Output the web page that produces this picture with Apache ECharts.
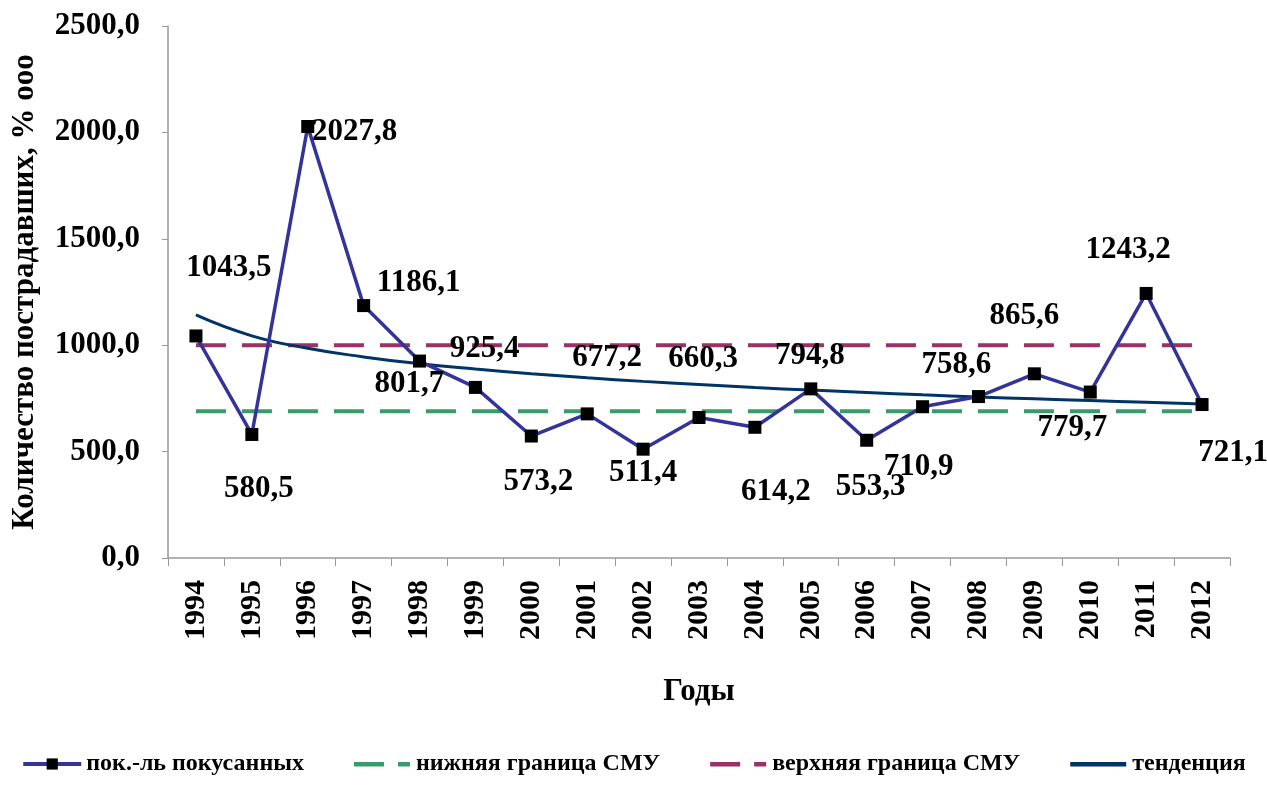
<!DOCTYPE html>
<html>
<head>
<meta charset="utf-8">
<script src="https://cdn.jsdelivr.net/npm/echarts@6/dist/echarts.min.js"></script>
<style>html,body{margin:0;padding:0;background:#fff}#c{width:1267px;height:785px}</style>
</head>
<body>
<div id="c"></div>
<script>
const years = ['1994','1995','1996','1997','1998','1999','2000','2001','2002','2003','2004','2005','2006','2007','2008','2009','2010','2011','2012'];
const bitten = [1043.5,580.5,2027.8,1186.1,925.4,801.7,573.2,677.2,511.4,660.3,614.2,794.8,553.3,710.9,758.6,865.6,779.7,1243.2,721.1];
const lowerBound = [690,690,690,690,690,690,690,690,690,690,690,690,690,690,690,690,690,690,690];
const upperBound = [1000,1000,1000,1000,1000,1000,1000,1000,1000,1000,1000,1000,1000,1000,1000,1000,1000,1000,1000];
const trend = [1142,1044,986,945,913,888,866,847,830,815,801,789,778,767,757,748,740,732,724];
const yTicks = [0,500,1000,1500,2000,2500];
const seriesNames = ['пок.-ль покусанных','нижняя граница СМУ','верхняя граница СМУ','тенденция'];
// label offsets (dx, dy) from each marker centre
const labelOffsets = [[33,-68],[7,55],[47,6],[55,-23],[65,-12],[-66,-3],[7,46],[20,-56],[0,24],[4,-59],[21,65],[-1,-33],[4,47],[-4,60],[-22,-32],[-10,-58],[-18,36],[-18,-43],[31,48]];

const fmt = v => Number(v).toFixed(1).replace('.', ',');
const font = 'Liberation Serif';
// legend icons drawn in a 56x14 box (tiny corner dots fix the box size)
const box = ' M0,0h0.01v0.01h-0.01z M55.99,13.99h0.01v0.01h-0.01z';
const dashIcon = 'path://M0,5h30v4.5h-30z M44,5h12v4.5h-12z' + box;
const solidIcon = 'path://M0,5h56v4.5h-56z' + box;

const chart = echarts.init(document.getElementById('c'));
chart.setOption({
  animation: false,
  backgroundColor: '#fff',
  grid: {left: 168, right: 37, top: 26, bottom: 227, containLabel: false, outerBoundsMode: 'none'},
  legend: {
    bottom: 4, left: 'center', itemWidth: 58, itemHeight: 14, itemGap: 50,
    textStyle: {fontFamily: font, fontWeight: 'bold', fontSize: 24, color: '#000'},
    data: [
      {name: seriesNames[0], lineStyle: {width: 4}},
      {name: seriesNames[1], icon: dashIcon},
      {name: seriesNames[2], icon: dashIcon},
      {name: seriesNames[3], icon: solidIcon}
    ]
  },
  xAxis: {
    type: 'category', data: years, boundaryGap: true,
    name: 'Годы', nameLocation: 'middle', nameGap: 118,
    nameTextStyle: {fontFamily: font, fontWeight: 'bold', fontSize: 31, color: '#000'},
    axisLine: {lineStyle: {color: '#999', width: 1.5}},
    axisTick: {show: true, length: 8, lineStyle: {color: '#999'}},
    axisLabel: {rotate: 90, margin: 22, fontFamily: font, fontWeight: 'bold', fontSize: 30, color: '#000', interval: 0}
  },
  yAxis: {
    type: 'value', min: yTicks[0], max: yTicks[yTicks.length-1], interval: 500,
    name: 'Количество пострадавших, % ооо', nameLocation: 'middle', nameGap: 128,
    nameTextStyle: {fontFamily: font, fontWeight: 'bold', fontSize: 31, color: '#000'},
    axisLine: {show: true, lineStyle: {color: '#999', width: 1.5}},
    axisTick: {show: true, length: 6, lineStyle: {color: '#999'}},
    splitLine: {show: false},
    axisLabel: {margin: 28, fontFamily: font, fontWeight: 'bold', fontSize: 31, color: '#000', formatter: fmt}
  },
  series: [
    {
      name: seriesNames[1], type: 'line', data: lowerBound, symbol: 'none', z: 2,
      lineStyle: {color: '#3A9A6A', width: 4, type: [30, 16]}, itemStyle: {color: '#3A9A6A'}
    },
    {
      name: seriesNames[2], type: 'line', data: upperBound, symbol: 'none', z: 2,
      lineStyle: {color: '#993366', width: 4, type: [30, 16]}, itemStyle: {color: '#993366'}
    },
    {
      name: seriesNames[3], type: 'line', data: trend, symbol: 'none', smooth: true, z: 3,
      lineStyle: {color: '#003366', width: 3}, itemStyle: {color: '#003366'}
    },
    {
      name: seriesNames[0], type: 'line', z: 5,
      data: bitten.map((v, i) => ({value: v, label: {offset: labelOffsets[i]}})),
      symbol: 'rect', symbolSize: 13,
      lineStyle: {color: '#333399', width: 3.5},
      itemStyle: {color: '#000'},
      label: {show: true, position: 'inside', formatter: p => fmt(p.value),
        fontFamily: font, fontWeight: 'bold', fontSize: 31, color: '#000'}
    }
  ]
});
</script>
</body>
</html>
